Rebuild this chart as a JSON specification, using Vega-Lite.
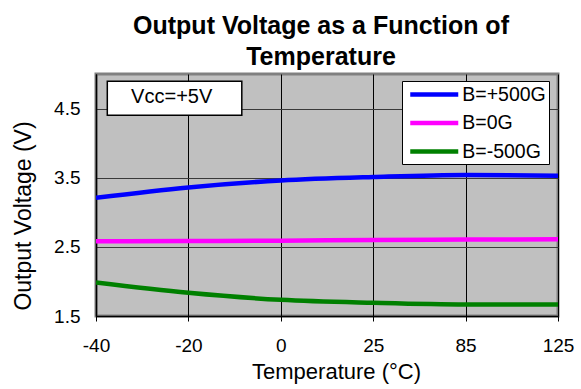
{
  "$schema": "https://vega.github.io/schema/vega-lite/v6.json",
  "width": 462,
  "height": 242,
  "autosize": {"type": "none"},
  "padding": {"left": 96, "top": 74, "right": 23, "bottom": 73},
  "background": "white",
  "title": {
    "text": ["Output Voltage as a Function of", "Temperature"],
    "font": "Liberation Sans",
    "fontSize": 25,
    "fontWeight": "bold",
    "color": "black",
    "lineHeight": 31,
    "anchor": "middle",
    "dx": -6,
    "baseline": "bottom",
    "offset": -21
  },
  "config": {
    "view": {"fill": "#C0C0C0", "stroke": "#808080", "strokeWidth": 3},
    "font": "Liberation Sans"
  },
  "layer": [
    {
      "data": {
        "values": [
          {"temp": "-40", "series": "B=+500G", "volts": 3.21},
          {"temp": "-20", "series": "B=+500G", "volts": 3.36},
          {"temp": "0", "series": "B=+500G", "volts": 3.46},
          {"temp": "25", "series": "B=+500G", "volts": 3.51},
          {"temp": "85", "series": "B=+500G", "volts": 3.54},
          {"temp": "125", "series": "B=+500G", "volts": 3.53},
          {"temp": "-40", "series": "B=0G", "volts": 2.58},
          {"temp": "-20", "series": "B=0G", "volts": 2.585},
          {"temp": "0", "series": "B=0G", "volts": 2.59},
          {"temp": "25", "series": "B=0G", "volts": 2.6},
          {"temp": "85", "series": "B=0G", "volts": 2.605},
          {"temp": "125", "series": "B=0G", "volts": 2.61},
          {"temp": "-40", "series": "B=-500G", "volts": 1.985},
          {"temp": "-20", "series": "B=-500G", "volts": 1.836},
          {"temp": "0", "series": "B=-500G", "volts": 1.734},
          {"temp": "25", "series": "B=-500G", "volts": 1.69},
          {"temp": "85", "series": "B=-500G", "volts": 1.666},
          {"temp": "125", "series": "B=-500G", "volts": 1.666}
        ]
      },
      "mark": {"type": "line", "interpolate": "monotone", "strokeWidth": 4.5, "clip": true},
      "encoding": {
        "x": {
          "field": "temp",
          "type": "ordinal",
          "scale": {"type": "point", "padding": 0, "domain": ["-40", "-20", "0", "25", "85", "125"]},
          "axis": {
            "title": "Temperature (°C)",
            "labelAngle": 0,
            "labelFontSize": 19,
            "labelColor": "black",
            "labelPadding": 15,
            "tickSize": 5,
            "tickColor": "black",
            "domainColor": "black",
            "domainWidth": 1.5,
            "grid": true,
            "gridColor": "black",
            "gridWidth": 1,
            "gridOpacity": 1,
            "titleFontSize": 22,
            "titleFontWeight": "normal",
            "titleColor": "black",
            "titleX": 240,
            "titleY": 62.3,
            "titleBaseline": "alphabetic",
            "titleAlign": "center"
          }
        },
        "y": {
          "field": "volts",
          "type": "quantitative",
          "scale": {"domain": [1.5, 5], "nice": false, "zero": false},
          "axis": {
            "title": "Output Voltage (V)",
            "values": [1.5, 2.5, 3.5, 4.5],
            "format": ".1f",
            "labelFontSize": 19,
            "labelColor": "black",
            "labelPadding": 16,
            "ticks": false,
            "domainColor": "black",
            "domainWidth": 1.5,
            "grid": true,
            "gridColor": "#3a3a3a",
            "gridWidth": 1,
            "gridOpacity": 1,
            "titleFontSize": 23,
            "titleFontWeight": "normal",
            "titleColor": "black",
            "titleAngle": -90,
            "titleX": -66,
            "titleY": 141.5,
            "titleBaseline": "alphabetic",
            "titleAlign": "center"
          }
        },
        "color": {
          "field": "series",
          "type": "nominal",
          "scale": {"domain": ["B=+500G", "B=0G", "B=-500G"], "range": ["#0000FF", "#FF00FF", "#008000"]},
          "legend": {
            "title": null,
            "orient": "none",
            "legendX": 306,
            "legendY": 7,
            "strokeColor": "black",
            "fillColor": "white",
            "padding": 3,
            "symbolType": "M-1,0H5",
            "symbolSize": 256,
            "symbolStrokeWidth": 4.5,
            "symbolOffset": 2.75,
            "labelFontSize": 19.5,
            "labelColor": "black",
            "labelOffset": 33.5,
            "rowPadding": 8.5
          }
        }
      }
    },
    {
      "data": {"values": [{"note": "Vcc=+5V"}]},
      "mark": {"type": "rect", "fill": "white", "stroke": "black", "strokeWidth": 1.5, "xOffset": 11.3, "x2Offset": -39},
      "encoding": {
        "x": {"datum": "-40", "type": "ordinal"},
        "x2": {"datum": "0"},
        "y": {"datum": 4.894, "type": "quantitative"},
        "y2": {"datum": 4.402}
      }
    },
    {
      "data": {"values": [{"note": "Vcc=+5V"}]},
      "mark": {"type": "text", "fontSize": 20, "color": "black", "align": "center", "baseline": "alphabetic", "dx": -16.7},
      "encoding": {
        "x": {"datum": "-20", "type": "ordinal"},
        "y": {"datum": 4.585, "type": "quantitative"},
        "text": {"field": "note"}
      }
    }
  ]
}
